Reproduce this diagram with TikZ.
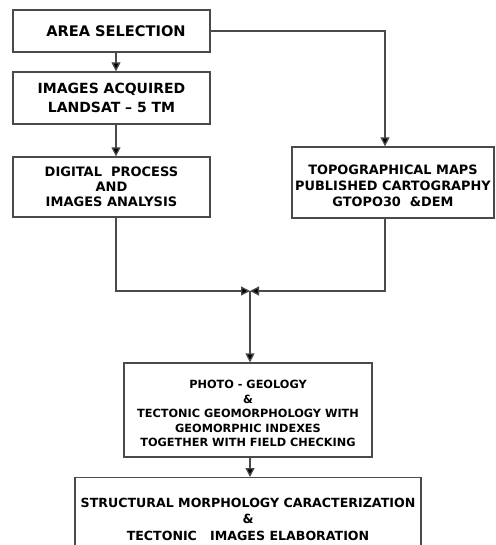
\documentclass[tikz,border=0pt]{standalone}
\usepackage{fontspec}
\setmainfont{DejaVu Sans}
\usetikzlibrary{arrows.meta,calc}
\definecolor{ln}{HTML}{4A4A4A}
\tikzset{
  box/.style={draw=ln, line width=1.3pt, rectangle, inner sep=0pt, align=center},
  conn/.style={draw=ln, line width=1.3pt},
  arr/.style={conn, -{Triangle[length=9pt,width=9pt,fill=black]}},
}
\begin{document}
\begin{tikzpicture}[x=1pt,y=-1pt]
\useasboundingbox (0,0) rectangle (495,545);
\clip (0,0) rectangle (495,545);
\coordinate (xl) at (116,0);
\coordinate (xr) at (385,0);
\coordinate (m) at (250,291);
\node[box, minimum width=197pt, minimum height=42pt, font=\fontsize{14.6}{17}\selectfont\bfseries] (a) at (111.5,31) {\hspace*{9pt}AREA SELECTION};
\node[box, minimum width=197pt, minimum height=52pt, font=\fontsize{14}{19}\selectfont\bfseries] (b) at (111.5,98) {IMAGES ACQUIRED\\LANDSAT -- 5 TM};
\node[box, minimum width=197pt, minimum height=60pt, font=\fontsize{13}{14.8}\selectfont\bfseries] (c) at (111.5,187) {DIGITAL~ PROCESS\\AND\\IMAGES ANALYSIS};
\node[box, minimum width=202pt, minimum height=71pt, font=\fontsize{12.9}{15.6}\selectfont\bfseries] (d) at (393,182.5) {\rule{0pt}{16pt}TOPOGRAPHICAL MAPS\\PUBLISHED CARTOGRAPHY\\GTOPO30 ~\&DEM};
\node[box, minimum width=248pt, minimum height=94pt, font=\fontsize{11.3}{14.5}\selectfont\bfseries] (e) at (248,410) {\rule{0pt}{16pt}PHOTO - GEOLOGY\\\&\\TECTONIC GEOMORPHOLOGY WITH\\GEOMORPHIC INDEXES\\TOGETHER WITH FIELD CHECKING};
\node[box, minimum width=346pt, minimum height=83pt, text depth=0pt, font=\fontsize{12.6}{16.5}\selectfont\bfseries, anchor=north] (f) at (248,477) {\rule{0pt}{6pt}STRUCTURAL MORPHOLOGY CARACTERIZATION\\\&\\TECTONIC~~ IMAGES ELABORATION};
\draw[arr] (a.south -| xl) -- (b.north -| xl);
\draw[arr] (b.south -| xl) -- (c.north -| xl);
\draw[arr] (a.east) -| (d.north -| xr);
\draw[arr] (c.south -| xl) |- (m);
\draw[arr] (d.south -| xr) |- (m);
\draw[arr] (m) -- (e.north -| m);
\draw[arr] (e.south -| m) -- (f.north -| m);
\end{tikzpicture}
\end{document}
